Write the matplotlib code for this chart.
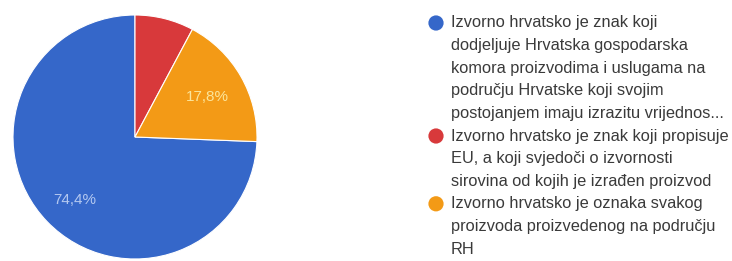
import matplotlib.pyplot as plt

# pie data (legend order)
shares = [74.4, 7.8, 17.8]
colors = ["#3567c9", "#d8393b", "#f39a16"]
pct_labels = ["74,4%", "", "17,8%"]
legend_lines = [
    ["Izvorno hrvatsko je znak koji",
     "dodjeljuje Hrvatska gospodarska",
     "komora proizvodima i uslugama na",
     "području Hrvatske koji svojim",
     "postojanjem imaju izrazitu vrijednos..."],
    ["Izvorno hrvatsko je znak koji propisuje",
     "EU, a koji svjedoči o izvornosti",
     "sirovina od kojih je izrađen proizvod"],
    ["Izvorno hrvatsko je oznaka svakog",
     "proizvoda proizvedenog na području",
     "RH"],
]

W, H = 732, 261


def main():
    plt.rcParams["font.family"] = ["Liberation Sans", "DejaVu Sans"]
    fig = plt.figure(figsize=(W / 100, H / 100), dpi=100)
    fig.patch.set_facecolor("white")

    # pie: centre (135, 137) px, radius 122 px
    cx, cy, r = 135, 137, 122
    ax = fig.add_axes([(cx - r) / W, (H - cy - r) / H, 2 * r / W, 2 * r / H])
    ax.pie(
        shares, colors=colors, startangle=90 + shares[0] * 3.6,
        counterclock=False, radius=1,
        wedgeprops={"edgecolor": "white", "linewidth": 0.8},
    )
    ax.set_xlim(-1, 1)
    ax.set_ylim(-1, 1)
    ax.set_aspect("equal")
    ax.axis("off")

    # percentage labels
    ax.text(-0.49, -0.52, pct_labels[0], color="#b3c8f0", fontsize=11,
            ha="center", va="center")
    ax.text(0.59, 0.33, pct_labels[2], color="#fbe59a", fontsize=11,
            ha="center", va="center")

    # legend in pixel coordinates
    lx = fig.add_axes([0, 0, 1, 1])
    lx.set_xlim(0, W)
    lx.set_ylim(H, 0)
    lx.axis("off")
    step = 22.6
    row = 0
    for color, lines in zip(colors, legend_lines):
        y0 = 23 + row * step
        lx.scatter([436], [y0], s=120, color=color, edgecolors="none")
        for i, line in enumerate(lines):
            lx.text(451, y0 + i * step, line, fontsize=11.8, color="#3a3a3a",
                    va="center", ha="left")
        row += len(lines)

    fig.savefig("out.png", dpi=100)


if __name__ == "__main__":
    main()
